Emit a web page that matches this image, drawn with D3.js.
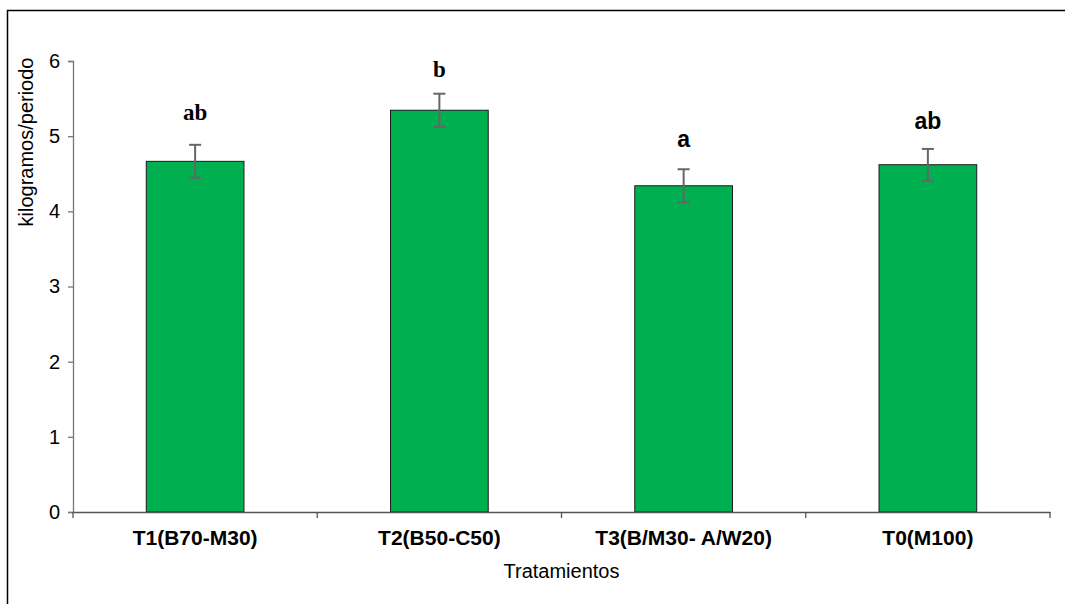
<!DOCTYPE html>
<html>
<head>
<meta charset="utf-8">
<script src="https://cdn.jsdelivr.net/npm/d3@7/dist/d3.min.js"></script>
<style>
  html, body { margin: 0; padding: 0; background: #fff; }
  svg { display: block; }
</style>
</head>
<body>
<svg id="chart" width="1065" height="604"></svg>
<script>
const categories = ["T1(B70-M30)", "T2(B50-C50)", "T3(B/M30- A/W20)", "T0(M100)"];
const means = [4.665, 5.345, 4.34, 4.62];
const errors = [0.22, 0.22, 0.22, 0.21];
const letters = ["ab", "b", "a", "ab"];
const letterLevels = [5.215, 5.787, 4.856, 5.095];
const yTicks = [0, 1, 2, 3, 4, 5, 6];
const yTitle = "kilogramos/periodo";
const xTitle = "Tratamientos";

(function () {
const letterFonts = ["'Liberation Serif', 'Times New Roman', serif", "'Liberation Serif', 'Times New Roman', serif",
                     "'Liberation Sans', Arial, sans-serif", "'Liberation Sans', Arial, sans-serif"];
const sans = "'Liberation Sans', Arial, sans-serif";

const svg = d3.select("#chart");
const mLeft = 73, mRight = 1050, mTop = 61, mBottom = 512;

// outer frame
svg.append("rect").attr("x", 7.5).attr("y", 10.5).attr("width", 1100).attr("height", 700)
  .attr("fill", "none").attr("stroke", "#000").attr("stroke-width", 1.5);

const x = d3.scaleBand().domain(categories).range([mLeft, mRight]).paddingInner(0).paddingOuter(0);
const y = d3.scaleLinear().domain([0, 6]).range([mBottom, mTop]);
const barW = x.bandwidth() * 0.4;

// bars
svg.append("g").selectAll("rect").data(categories).join("rect")
  .attr("x", d => x(d) + (x.bandwidth() - barW) / 2)
  .attr("y", (d, i) => y(means[i]))
  .attr("width", barW)
  .attr("height", (d, i) => y(0) - y(means[i]))
  .attr("fill", "#00B050")
  .attr("stroke", "#1a1a1a")
  .attr("stroke-width", 1);

// error bars
const eg = svg.append("g").attr("stroke", "#666").attr("stroke-width", 2);
categories.forEach((c, i) => {
  const cx = x(c) + x.bandwidth() / 2;
  const y1 = y(means[i] + errors[i]), y2 = y(means[i] - errors[i]);
  eg.append("line").attr("x1", cx).attr("x2", cx).attr("y1", y1).attr("y2", y2);
  eg.append("line").attr("x1", cx - 6).attr("x2", cx + 6).attr("y1", y1).attr("y2", y1);
  eg.append("line").attr("x1", cx - 6).attr("x2", cx + 6).attr("y1", y2).attr("y2", y2);
});

// y axis
const yAxis = svg.append("g").attr("transform", `translate(${mLeft},0)`)
  .call(d3.axisLeft(y).tickValues(yTicks).tickSize(5).tickPadding(8).tickFormat(d3.format("d")));
yAxis.select(".domain").attr("stroke", "#777").attr("stroke-width", 1.3);
yAxis.selectAll(".tick line").attr("stroke", "#777").attr("stroke-width", 1.3);
yAxis.selectAll(".tick text").attr("font-family", sans)
  .attr("font-size", 20).attr("fill", "#000");

// x axis
const xAxis = svg.append("g").attr("transform", `translate(0,${mBottom})`)
  .call(d3.axisBottom(x).tickSize(0).tickPadding(0));
xAxis.select(".domain").attr("stroke", "#555").attr("stroke-width", 1.3);
xAxis.selectAll(".tick line").remove();
xAxis.selectAll(".tick text").attr("font-family", sans)
  .attr("font-size", 21).attr("font-weight", "bold").attr("fill", "#000")
  .attr("dy", null).attr("y", 33);
// category boundary ticks
const bounds = categories.map(c => x(c)).concat([mRight]);
svg.append("g").selectAll("line").data(bounds).join("line")
  .attr("x1", d => d).attr("x2", d => d).attr("y1", mBottom).attr("y2", mBottom + 6)
  .attr("stroke", "#555").attr("stroke-width", 1.3);

// letters
svg.append("g").selectAll("text").data(letters).join("text")
  .attr("x", (d, i) => x(categories[i]) + x.bandwidth() / 2)
  .attr("y", (d, i) => y(letterLevels[i]))
  .attr("text-anchor", "middle")
  .attr("font-family", (d, i) => letterFonts[i])
  .attr("font-weight", "bold")
  .attr("font-size", 23)
  .attr("fill", "#000")
  .text(d => d);

// titles
svg.append("text").attr("x", (mLeft + mRight) / 2).attr("y", 578)
  .attr("text-anchor", "middle").attr("font-family", sans)
  .attr("font-size", 20).attr("fill", "#000").text(xTitle);
svg.append("text").attr("transform", `translate(33,142) rotate(-90)`)
  .attr("text-anchor", "middle").attr("font-family", sans)
  .attr("font-size", 20).attr("fill", "#000").text(yTitle);
})();
</script>
</body>
</html>
